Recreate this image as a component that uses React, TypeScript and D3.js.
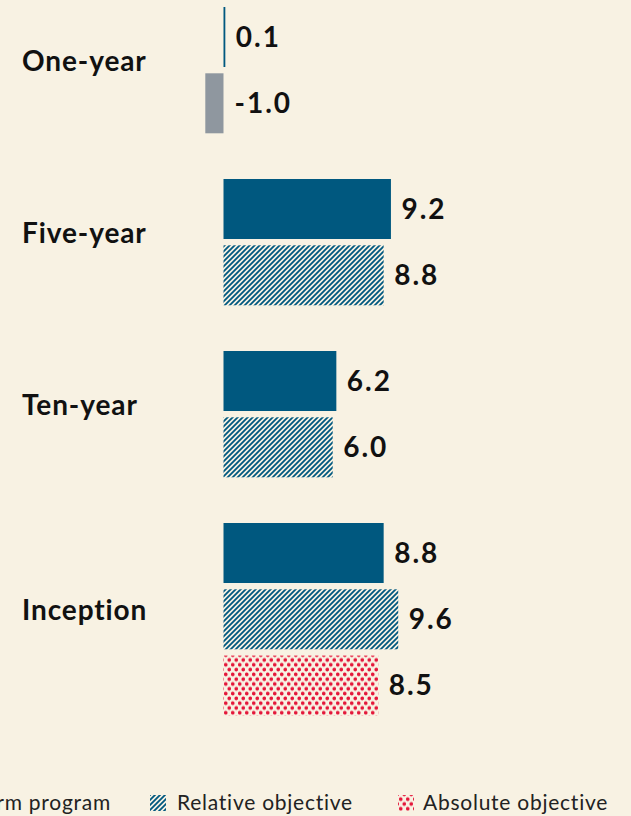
import React from "react";
import * as d3 from "d3";

const categories = ["One-year", "Five-year", "Ten-year", "Inception"];
const programValues = [0.1, 9.2, 6.2, 8.8];
const relativeValues = [-1.0, 8.8, 6.0, 9.6];
const absoluteValues: (number | null)[] = [null, null, null, 8.5];
const legendLabels = ["Long-term program", "Relative objective", "Absolute objective"];

const W = 631;
const H = 816;
const BG = "#f8f2e3";
const BLUE = "#00587f";
const GRAY = "#8f979f";
const RED = "#e4173a";
const FONT = "Lato, 'Noto Sans', sans-serif";

export default function App() {
  const x = d3.scaleLinear().domain([0, 10]).range([223.5, 405.5]);
  const barH = 60;
  const rowStep = 66.3;
  const groupGap = 39.4;

  type Row = { cat: number; series: string; value: number; y: number };
  const rows: Row[] = [];
  const groupCenters: number[] = [];
  let yCursor = 7;
  categories.forEach((_, i) => {
    const start = yCursor;
    const series: [string, number | null][] = [
      ["program", programValues[i]],
      ["relative", relativeValues[i]],
      ["absolute", absoluteValues[i]],
    ];
    let n = 0;
    series.forEach(([s, v]) => {
      if (v === null || v === undefined) return;
      rows.push({ cat: i, series: s, value: v, y: yCursor });
      yCursor += rowStep;
      n++;
    });
    const end = start + (n - 1) * rowStep + barH;
    groupCenters.push((start + end) / 2);
    yCursor = start + n * rowStep + groupGap;
  });

  const fillFor = (r: Row) => {
    if (r.series === "program") return BLUE;
    if (r.series === "relative") return r.value < 0 ? GRAY : "url(#hatch)";
    return "url(#dots)";
  };

  return (
    <svg
      width={W}
      height={H}
      style={{ position: "absolute", left: 0, top: 0, display: "block" }}
      fontFamily={FONT}
    >
      <defs>
        <pattern id="hatch" patternUnits="userSpaceOnUse" width={5} height={5}>
          <path
            d="M0,5 L5,0 M-1.25,1.25 L1.25,-1.25 M3.75,6.25 L6.25,3.75"
            stroke={BLUE}
            strokeWidth={1.8}
          />
        </pattern>
        <pattern id="dots" patternUnits="userSpaceOnUse" width={7} height={9.6}>
          <circle cx={1.75} cy={2.4} r={1.85} fill={RED} />
          <circle cx={5.25} cy={7.2} r={1.85} fill={RED} />
        </pattern>
      </defs>
      <rect width={W} height={H} fill={BG} />

      {categories.map((c, i) => (
        <text
          key={c}
          x={22}
          y={groupCenters[i] + 0.5}
          fontSize={28}
          fontWeight={700}
          letterSpacing={0.9}
          fill="#111"
        >
          {c}
        </text>
      ))}

      {rows.map((r, k) => {
        const x0 = x(Math.min(0, r.value));
        const x1 = x(Math.max(0, r.value));
        const labelX = r.value < 0 ? x(0) + 11 : x1 + 10.5;
        return (
          <g key={k}>
            <rect x={x0} y={r.y} width={Math.max(1, x1 - x0)} height={barH} fill={fillFor(r)} />
            <text
              x={labelX}
              y={r.y + barH / 2 + 9.5}
              fontSize={28}
              fontWeight={700}
              letterSpacing={2}
              fill="#111"
            >
              {r.value.toFixed(1)}
            </text>
          </g>
        );
      })}

      <g fontSize={21} fill="#222" letterSpacing={0.75}>
        <rect x={-60} y={795} width={16} height={16} fill={BLUE} />
        <text x={111} y={810} textAnchor="end">{legendLabels[0]}</text>
        <rect x={150} y={795} width={16} height={16} fill="url(#hatch)" />
        <text x={177} y={810}>{legendLabels[1]}</text>
        <rect x={398} y={795} width={16} height={16} fill="url(#dots)" />
        <text x={423} y={810}>{legendLabels[2]}</text>
      </g>
    </svg>
  );
}
